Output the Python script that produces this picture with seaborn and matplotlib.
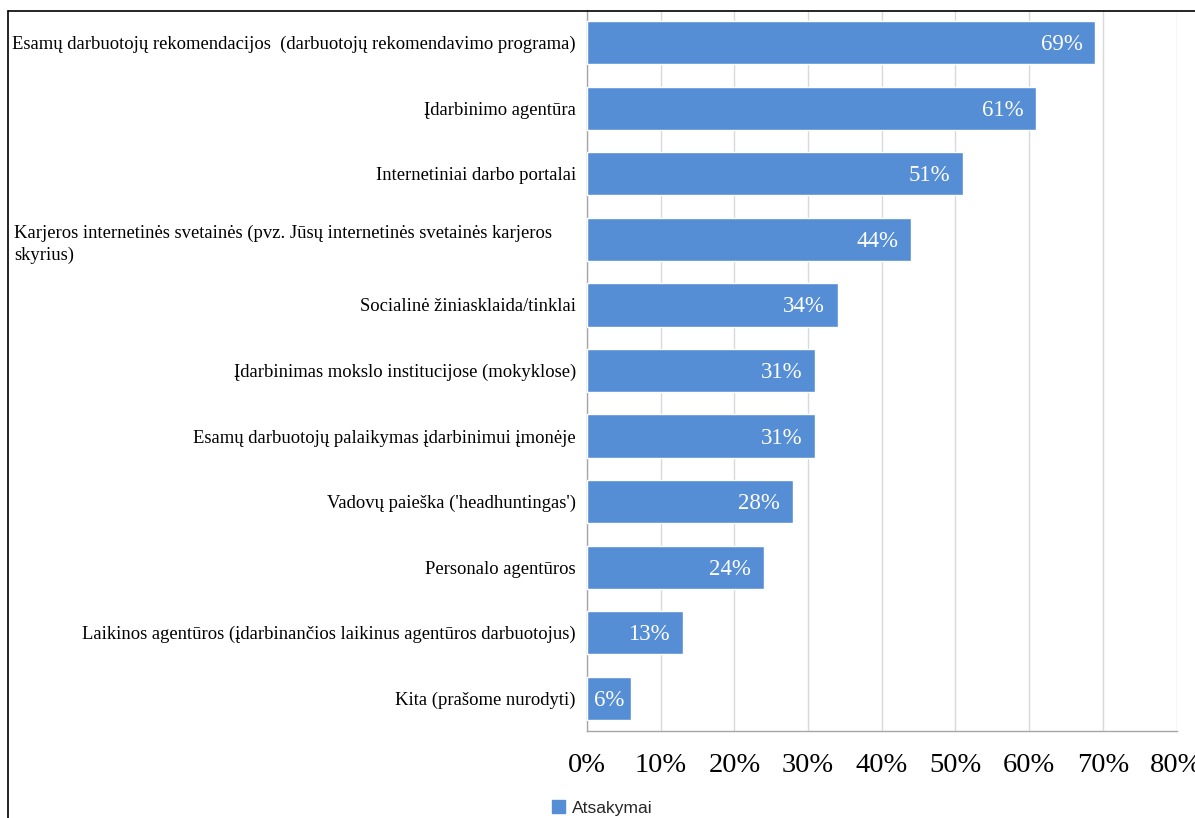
import matplotlib
matplotlib.use("Agg")
import matplotlib.pyplot as plt
import matplotlib.transforms as mtransforms
from matplotlib.lines import Line2D
from matplotlib.patches import Patch
import numpy as np
import pandas as pd
import seaborn as sns

categories = [
    "Esamų darbuotojų rekomendacijos  (darbuotojų rekomendavimo programa)",
    "Įdarbinimo agentūra",
    "Internetiniai darbo portalai",
    "Karjeros internetinės svetainės (pvz. Jūsų internetinės svetainės karjeros\nskyrius)",
    "Socialinė žiniasklaida/tinklai",
    "Įdarbinimas mokslo institucijose (mokyklose)",
    "Esamų darbuotojų palaikymas įdarbinimui įmonėje",
    "Vadovų paieška ('headhuntingas')",
    "Personalo agentūros",
    "Laikinos agentūros (įdarbinančios laikinus agentūros darbuotojus)",
    "Kita (prašome nurodyti)",
]
values = [69, 61, 51, 44, 34, 31, 31, 28, 24, 13, 6]
x_ticks = [0, 10, 20, 30, 40, 50, 60, 70, 80]
series_name = "Atsakymai"

BAR = "#558ED5"
GRID = "#D9D9D9"
AXIS = "#A6A6A6"

sns.set_theme(style="white")
plt.rcParams["font.family"] = ["Liberation Serif", "DejaVu Serif"]

df = pd.DataFrame({"kategorija": categories, "procentai": values})

fig = plt.figure(figsize=(11.95, 8.18), dpi=100)
ax = fig.add_axes([587 / 1195, 1 - 731 / 818, (1176.5 - 587) / 1195, (731 - 10) / 818])

sns.barplot(data=df, x="procentai", y="kategorija", orient="h", color=BAR,
            saturation=1, width=0.66, ax=ax, zorder=3)

ax.set_xlim(0, 80)
ax.set_ylim(len(categories) - 0.5, -0.5)
ax.set_xticks(x_ticks)
ax.set_xticklabels([f"{t}%" for t in x_ticks], fontsize=20.5, color="#000000")
ax.set_xlabel("")
ax.set_ylabel("")
ax.xaxis.grid(True, color=GRID, linewidth=1.0, zorder=0)
ax.yaxis.grid(False)
ax.set_axisbelow(True)

for side in ["top", "right"]:
    ax.spines[side].set_visible(False)
for side in ["left", "bottom"]:
    ax.spines[side].set_color(AXIS)
    ax.spines[side].set_linewidth(1.0)

ax.tick_params(axis="x", which="major", direction="out", length=7, width=1.0,
               color=AXIS, pad=9)
# category ticks sit on the band boundaries
ax.set_yticks(np.arange(-0.5, len(categories) + 0.5, 1.0), minor=True)
ax.tick_params(axis="y", which="minor", direction="out", length=9, width=1.0, color=AXIS)
ax.tick_params(axis="y", which="major", length=0, pad=8)
for lbl in ax.get_yticklabels():
    lbl.set_fontsize(13.4)
    lbl.set_color("#000000")
    if "\n" in lbl.get_text():
        lbl.set_multialignment("left")
        lbl.set_linespacing(1.3)
        off = mtransforms.ScaledTranslation(-24 / 100, -1 / 100, fig.dpi_scale_trans)
        lbl.set_transform(lbl.get_transform() + off)

# value labels just inside the bar ends; short bars get them centred
px_per_unit = (1176.5 - 587) / 80
for i, v in enumerate(values):
    bar_px = v * px_per_unit
    if bar_px > 80:
        off = mtransforms.ScaledTranslation(-13 / 100, -2 / 100, fig.dpi_scale_trans)
        ax.text(v, i, f"{v}%", ha="right", va="center", color="white", fontsize=16.5,
                zorder=4, transform=ax.transData + off)
    else:
        off = mtransforms.ScaledTranslation(0, -2 / 100, fig.dpi_scale_trans)
        ax.text(v / 2, i, f"{v}%", ha="center", va="center", color="white",
                fontsize=16.5, zorder=4, transform=ax.transData + off)

# legend below the axis
handles = [Patch(facecolor=BAR, edgecolor=BAR, label=series_name)]
fig.legend(handles=handles, loc="center", bbox_to_anchor=(602 / 1195, 1 - 808 / 818),
           frameon=False, handlelength=0.75, handleheight=0.75, handletextpad=0.4,
           prop={"family": ["Liberation Sans", "DejaVu Sans"], "size": 12.6})

# chart frame edges
fig.add_artist(Line2D([8 / 1195, 1.0], [1 - 11 / 818, 1 - 11 / 818],
                      transform=fig.transFigure, color="#000000", linewidth=1.2))
fig.add_artist(Line2D([8 / 1195, 8 / 1195], [0, 1 - 11 / 818],
                      transform=fig.transFigure, color="#000000", linewidth=1.2))

fig.savefig("out.png", dpi=100)
